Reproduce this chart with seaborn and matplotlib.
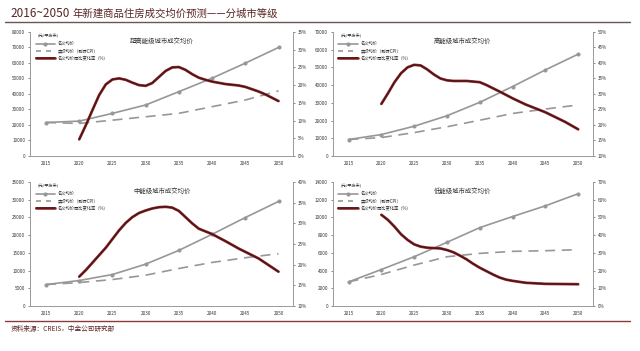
import numpy as np
import pandas as pd
import seaborn as sns
import matplotlib
matplotlib.use('Agg')
import matplotlib.pyplot as plt
import matplotlib.patheffects as pe
from matplotlib.lines import Line2D

sns.set_style('white')
plt.rcParams['font.family'] = ['Noto Sans CJK SC', 'DejaVu Sans']
plt.rcParams['axes.unicode_minus'] = False

# ---------------- data
years = [2015, 2020, 2025, 2030, 2035, 2040, 2045, 2050]

titles = ['超高能级城市成交均价', '高能级城市成交均价',
          '中能级城市成交均价', '低能级城市成交均价']

nominal_1 = [21600, 22500, 27500, 32900, 41500, 50200, 59900, 70000]
real_1    = [21600, 21000, 23100, 25300, 27500, 31800, 36100, 42000]
g_years_1 = [2020, 2021, 2022, 2023, 2024, 2025, 2026, 2027, 2028, 2029, 2030,
             2031, 2032, 2033, 2034, 2035, 2036, 2037, 2038, 2039, 2040, 2042,
             2044, 2045, 2047, 2048, 2050]
growth_1  = [4.7, 8.7, 13.0, 17.2, 20.2, 21.6, 21.9, 21.5, 20.7, 20.0, 19.8,
             20.6, 22.3, 24.0, 25.0, 25.1, 24.3, 23.1, 22.1, 21.5, 21.0, 20.3,
             19.9, 19.5, 18.2, 17.4, 15.5]

nominal_2 = [9300, 12100, 16800, 22700, 30300, 39200, 48600, 57500]
real_2    = [9300, 10400, 13200, 16500, 20200, 24000, 26500, 28800]
g_years_2 = [2020, 2021, 2022, 2023, 2024, 2025, 2026, 2027, 2028, 2029, 2030,
             2031, 2033, 2035, 2036, 2038, 2040, 2042, 2045, 2048, 2050]
growth_2  = [26.8, 30.2, 33.8, 36.7, 38.6, 39.4, 39.2, 37.9, 36.3, 35.0, 34.4,
             34.2, 34.2, 33.8, 32.9, 30.8, 28.6, 26.6, 24.1, 21.0, 18.6]

nominal_3 = [6050, 7190, 8890, 11820, 15700, 20240, 24970, 29510]
real_3    = [6050, 6620, 7470, 8700, 10590, 12300, 13620, 14760]
g_years_3 = [2020, 2021, 2022, 2023, 2024, 2025, 2026, 2027, 2028, 2029, 2030,
             2031, 2032, 2033, 2034, 2035, 2036, 2037, 2038, 2040, 2042, 2044,
             2045, 2047, 2050]
growth_3  = [17.1, 18.7, 20.5, 22.3, 24.1, 26.2, 28.3, 30.1, 31.5, 32.5, 33.1,
             33.6, 33.9, 34.0, 33.8, 33.0, 31.5, 30.0, 28.7, 27.4, 25.7, 23.9,
             23.1, 21.5, 18.3]

nominal_4 = [2720, 4120, 5560, 7190, 8850, 10100, 11310, 12680]
real_4    = [2720, 3560, 4620, 5560, 5940, 6170, 6240, 6360]
g_years_4 = [2020, 2021, 2022, 2023, 2024, 2025, 2026, 2027, 2028, 2029, 2030,
             2031, 2032, 2033, 2034, 2035, 2036, 2037, 2038, 2039, 2040, 2042,
             2044, 2045, 2050]
growth_4  = [51.5, 48.6, 44.8, 40.5, 37.3, 34.8, 33.5, 32.9, 32.7, 32.5, 31.6,
             30.3, 28.4, 26.3, 23.8, 21.6, 19.7, 17.8, 16.1, 14.9, 14.2, 13.1,
             12.7, 12.5, 12.3]

left_lims  = [(0, 80000, 10000), (0, 70000, 10000), (0, 35000, 5000), (0, 14000, 2000)]
right_lims = [(0, 35, 5), (10, 50, 5), (10, 40, 5), (0, 70, 10)]

lab_nom  = '名义均价'
lab_real = '实际均价（剔除CPI）'
lab_g    = '名义均价同比变化率（%）'

panels = [
    (nominal_1, real_1, g_years_1, growth_1),
    (nominal_2, real_2, g_years_2, growth_2),
    (nominal_3, real_3, g_years_3, growth_3),
    (nominal_4, real_4, g_years_4, growth_4),
]

# ---------------- figure
fig = plt.figure(figsize=(6.4, 3.51), dpi=100)

boxes = [[0.047, 0.5556, 0.411, 0.3533],
         [0.520, 0.5556, 0.406, 0.3533],
         [0.047, 0.1282, 0.411, 0.3533],
         [0.520, 0.1282, 0.406, 0.3533]]

grey = '#979797'
dark = '#4a1619'
red_edge = '#a83838'
tick_fs = 3.3
red_fx = [pe.Stroke(linewidth=2.0, foreground=red_edge), pe.Normal()]

for i, (nom, real, gy, gv) in enumerate(panels):
  ax = fig.add_axes(boxes[i])
  ax2 = ax.twinx()

  df = pd.DataFrame({'year': years, 'nominal': nom, 'real': real})
  dg = pd.DataFrame({'year': gy, 'growth': gv})

  sns.lineplot(data=df, x='year', y='nominal', ax=ax, color=grey, lw=1.2,
               marker='o', markersize=2.2, markeredgecolor=grey)
  sns.lineplot(data=df, x='year', y='real', ax=ax, color=grey, lw=1.2,
               linestyle=(0, (6, 4)))
  sns.lineplot(data=dg, x='year', y='growth', ax=ax2, color=dark, lw=1.2,
               path_effects=red_fx)

  lo, hi, st = left_lims[i]
  ax.set_ylim(lo, hi)
  ax.set_yticks(np.arange(lo, hi + st, st))
  ax.set_yticklabels([f'{v:d}' for v in np.arange(lo, hi + st, st)])
  rlo, rhi, rst = right_lims[i]
  ax2.set_ylim(rlo, rhi)
  ax2.set_yticks(np.arange(rlo, rhi + rst, rst))
  ax2.set_yticklabels([f'{v:d}%' for v in np.arange(rlo, rhi + rst, rst)])

  ax.set_xlim(2012.6, 2052.2)
  ax.set_xticks(years)
  ax.set_xlabel('')
  ax.set_ylabel('')
  ax2.set_ylabel('')

  for a in (ax, ax2):
    a.tick_params(labelsize=tick_fs, length=1.5, width=0.4, colors='#333333', pad=2)
    a.spines['top'].set_visible(False)
    for s in ('left', 'right', 'bottom'):
      a.spines[s].set_color('#9a9a9a')
      a.spines[s].set_linewidth(0.6)

  ax.text(0.5, 0.93, titles[i], transform=ax.transAxes, ha='center', va='center',
          fontsize=4.6, color='#333333')
  ax.text(0.03, 0.995, '(元/平方米)', transform=ax.transAxes, ha='left', va='top',
          fontsize=3.0, color='#333333')

  handles = [Line2D([], [], color=grey, lw=1.2, marker='o', markersize=2.0),
             Line2D([], [], color=grey, lw=1.2, linestyle=(0, (3, 3))),
             Line2D([], [], color=dark, lw=1.2, path_effects=red_fx)]
  ax.legend(handles, [lab_nom, lab_real, lab_g], loc='upper left',
            bbox_to_anchor=(0.015, 0.94), frameon=False, fontsize=3.1,
            handlelength=4.5, handletextpad=0.6, labelspacing=0.55,
            borderaxespad=0)

# title and rules
fig.text(0.016, 0.962, '2016~2050', fontsize=8.5, color='#5a2424', ha='left', va='center')
fig.text(0.113, 0.962, '年新建商品住房成交均价预测——分城市等级', fontsize=7.5,
         color='#5a2424', ha='left', va='center')
fig.add_artist(Line2D([0.008, 0.985], [0.937, 0.937], color='#6b5555', lw=1.0))
fig.add_artist(Line2D([0.008, 0.985], [0.086, 0.086], color='#8a3a3a', lw=1.0))
fig.text(0.016, 0.062, '资料来源：CREIS，中金公司研究部', fontsize=4.8,
         color='#5a2424', ha='left', va='center')

fig.savefig('out.png', dpi=100)
